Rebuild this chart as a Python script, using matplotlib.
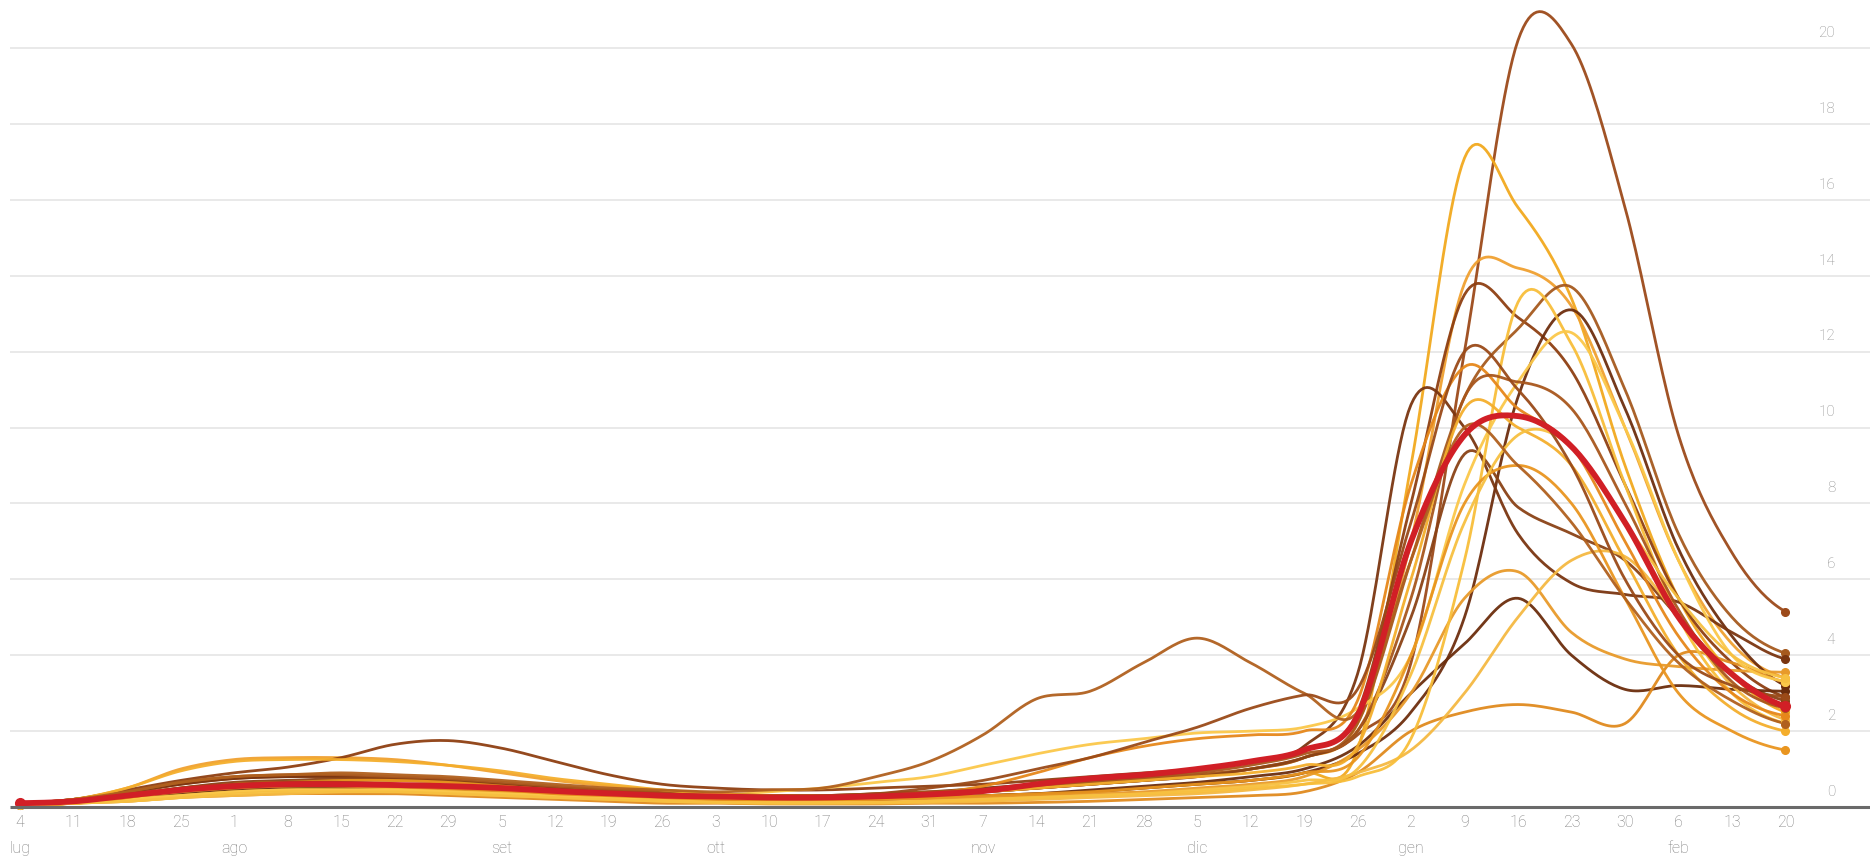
import numpy as np
import pandas as pd
import matplotlib
matplotlib.use('Agg')
import matplotlib.pyplot as plt

# weekly dates, 4 Jul 2021 -> 20 Feb 2022
dates = pd.date_range('2021-07-04', '2022-02-20', freq='7D')
mesi = {7: 'lug', 8: 'ago', 9: 'set', 10: 'ott', 11: 'nov', 12: 'dic', 1: 'gen', 2: 'feb'}

# one series per region, Italy drawn on top
regioni = {
    'A': [0.1,0.15,0.35,0.6,0.75,0.8,0.8,0.75,0.7,0.6,0.5,0.4,0.35,0.3,0.25,0.25,0.3,0.35,0.4,0.5,0.6,0.7,0.8,1.0,1.3,
          1.9,3.8,12.0,20.2,20.1,15.8,9.8,6.7,5.15],
    'B': [0.05,0.1,0.2,0.3,0.4,0.45,0.45,0.4,0.35,0.3,0.25,0.2,0.15,0.12,0.1,0.1,0.12,0.15,0.2,0.3,0.4,0.5,0.6,0.7,0.9,
          1.5,9.0,17.1,15.8,13.4,9.0,5.5,3.5,2.5],
    'C': [0.1,0.2,0.5,1.0,1.25,1.3,1.3,1.25,1.1,0.9,0.7,0.55,0.45,0.35,0.3,0.3,0.3,0.35,0.45,0.55,0.65,0.75,0.85,1.0,1.3,
          2.2,7.0,13.8,14.2,13.2,10.0,6.5,4.3,3.4],
    'D1': [0.1,0.2,0.45,0.7,0.9,1.05,1.3,1.65,1.75,1.55,1.2,0.85,0.6,0.5,0.45,0.45,0.5,0.55,0.6,0.7,0.8,0.9,1.0,1.2,1.5,
           2.5,8.0,13.5,12.9,11.5,8.5,5.5,3.8,2.9],
    'D2': [0.1,0.15,0.3,0.5,0.6,0.65,0.7,0.7,0.65,0.6,0.5,0.4,0.35,0.3,0.25,0.25,0.3,0.35,0.4,0.5,0.6,0.7,0.85,1.0,1.3,
           2.2,6.5,10.8,12.6,13.7,11.0,7.2,5.0,4.05],
    'E': [0.05,0.1,0.2,0.35,0.45,0.5,0.5,0.5,0.45,0.4,0.35,0.3,0.25,0.2,0.2,0.2,0.2,0.25,0.3,0.35,0.4,0.5,0.6,0.7,0.9,
          1.4,2.5,5.0,10.8,13.1,10.5,6.8,4.5,3.2],
    'F': [0.1,0.2,0.4,0.6,0.75,0.8,0.8,0.75,0.7,0.6,0.5,0.45,0.4,0.35,0.3,0.3,0.35,0.4,0.5,0.6,0.7,0.8,0.95,1.2,1.6,
          3.5,10.6,10.0,7.2,5.9,5.6,5.4,4.6,3.9],
    'G': [0.1,0.15,0.3,0.5,0.65,0.7,0.75,0.75,0.7,0.6,0.5,0.45,0.4,0.35,0.3,0.3,0.3,0.35,0.4,0.5,0.6,0.7,0.8,1.0,1.3,
          2.0,5.0,9.3,7.9,7.2,6.5,5.0,3.5,2.8],
    'H': [0.1,0.15,0.3,0.45,0.55,0.6,0.6,0.55,0.5,0.45,0.4,0.35,0.3,0.25,0.2,0.2,0.2,0.25,0.3,0.35,0.45,0.55,0.65,0.8,1.0,
          1.6,3.0,4.3,5.5,4.0,3.1,3.2,3.1,3.05],
    'I': [0.05,0.1,0.15,0.25,0.3,0.35,0.35,0.35,0.3,0.25,0.2,0.15,0.1,0.1,0.08,0.08,0.08,0.1,0.1,0.12,0.15,0.2,0.25,0.3,0.4,
          0.9,2.0,2.5,2.7,2.5,2.2,4.0,3.8,3.3],
    'J': [0.05,0.1,0.25,0.4,0.5,0.55,0.55,0.5,0.45,0.4,0.35,0.3,0.25,0.2,0.18,0.18,0.2,0.22,0.25,0.3,0.35,0.4,0.5,0.6,0.8,
          1.5,3.0,5.5,6.2,4.6,3.9,3.7,3.6,3.55],
    'K': [0.05,0.1,0.15,0.25,0.3,0.35,0.4,0.4,0.35,0.3,0.25,0.2,0.15,0.12,0.1,0.1,0.1,0.12,0.15,0.2,0.25,0.3,0.35,0.45,0.6,
          0.9,1.5,3.0,5.0,6.5,6.6,5.0,3.2,2.3],
    'L': [0.05,0.1,0.2,0.3,0.4,0.45,0.45,0.45,0.4,0.35,0.3,0.25,0.2,0.15,0.12,0.12,0.12,0.15,0.2,0.25,0.3,0.35,0.4,0.5,0.6,
          0.8,1.8,6.5,13.3,12.2,8.5,5.0,3.0,2.2],
    'M': [0.05,0.1,0.2,0.3,0.4,0.45,0.45,0.45,0.4,0.35,0.3,0.25,0.25,0.3,0.4,0.5,0.65,0.8,1.1,1.4,1.65,1.8,1.95,2.0,2.1,
          2.6,4.0,8.5,11.2,12.5,10.0,6.5,4.0,3.3],
    'N': [0.05,0.1,0.25,0.45,0.55,0.6,0.6,0.55,0.5,0.45,0.35,0.3,0.25,0.2,0.2,0.2,0.25,0.35,0.55,0.9,1.3,1.6,1.8,1.9,2.0,
          2.8,8.5,11.6,10.5,9.5,7.0,4.5,3.0,2.4],
    'O': [0.1,0.2,0.4,0.65,0.8,0.85,0.85,0.8,0.75,0.65,0.55,0.45,0.4,0.35,0.3,0.3,0.35,0.4,0.45,0.55,0.65,0.75,0.9,1.1,1.4,
          2.0,5.5,10.8,11.2,10.5,8.0,5.2,3.3,2.6],
    'P': [0.1,0.2,0.5,0.95,1.2,1.25,1.25,1.2,1.1,0.95,0.75,0.6,0.45,0.35,0.3,0.3,0.3,0.35,0.4,0.5,0.6,0.7,0.8,0.9,1.1,
          1.6,6.0,10.5,10.0,9.0,6.5,4.0,2.6,2.0],
    'Q': [0.05,0.1,0.25,0.45,0.6,0.65,0.7,0.7,0.65,0.55,0.45,0.35,0.3,0.25,0.2,0.2,0.2,0.25,0.3,0.35,0.4,0.5,0.6,0.7,0.9,
          1.3,4.0,8.0,9.0,8.0,5.5,3.0,2.0,1.5],
    'R': [0.05,0.1,0.15,0.25,0.35,0.4,0.4,0.4,0.35,0.3,0.25,0.2,0.15,0.12,0.1,0.1,0.12,0.15,0.2,0.25,0.3,0.35,0.45,0.55,0.7,
          1.0,3.5,7.5,9.8,9.5,7.5,5.5,4.0,3.4],
    'S': [0.1,0.2,0.4,0.65,0.8,0.85,0.9,0.85,0.8,0.7,0.6,0.5,0.45,0.4,0.45,0.5,0.8,1.2,1.9,2.85,3.05,3.8,4.45,3.8,3.0,
          2.5,6.5,10.0,9.0,7.5,5.5,3.8,2.8,2.2],
    'U': [0.1,0.15,0.3,0.5,0.6,0.65,0.65,0.6,0.55,0.5,0.45,0.4,0.35,0.3,0.3,0.3,0.35,0.5,0.7,1.0,1.3,1.7,2.1,2.6,2.95,
          3.1,7.5,12.0,11.0,9.0,6.0,4.0,3.2,2.9],
}
colori = {
    'A': '#9c4a1a', 'B': '#f2a91e', 'C': '#f0a030', 'D1': '#8e3f12', 'D2': '#a65a1e',
    'E': '#6e2e0e', 'F': '#7a3510', 'G': '#8a4216', 'H': '#6b2d0c', 'I': '#e08a1e',
    'J': '#e89a2a', 'K': '#f5b942', 'L': '#f8be3a', 'M': '#fbc84a', 'N': '#e6871a',
    'O': '#a8561c', 'P': '#f4ae2c', 'Q': '#e9951f', 'R': '#f7c040', 'S': '#b0601e',
    'U': '#9a4a18',
}
italia = [0.1,0.15,0.3,0.45,0.55,0.6,0.6,0.58,0.55,0.5,0.42,0.36,0.3,0.28,0.25,0.25,0.28,0.33,0.42,0.6,0.75,0.85,1.0,1.2,1.5,
          2.4,7.0,9.8,10.3,9.5,7.5,5.0,3.5,2.65]


def catmull(y, n=20):
    y = np.asarray(y, float)
    p = np.concatenate([[y[0]], y, [y[-1]]])
    t = np.linspace(0, 1, n, endpoint=False)
    h00 = 2*t**3 - 3*t**2 + 1
    h10 = t**3 - 2*t**2 + t
    h01 = -2*t**3 + 3*t**2
    h11 = t**3 - t**2
    xs, ys = [], []
    for i in range(len(y) - 1):
        m1 = (p[i+2] - p[i]) / 2
        m2 = (p[i+3] - p[i+1]) / 2
        ys.append(h00*p[i+1] + h10*m1 + h01*p[i+2] + h11*m2)
        xs.append(i + t)
    xs = np.concatenate(xs + [[len(y) - 1]])
    ys = np.concatenate(ys + [[y[-1]]])
    return xs, np.clip(ys, 0, None)


plt.rcParams['font.family'] = ['Roboto', 'DejaVu Sans']
fig = plt.figure(figsize=(18.7, 8.59), dpi=100)
ax = fig.add_axes([0, 0, 1, 1])
ax.set_axis_off()
ax.set_xlim(-0.374, 34.58)
ax.set_ylim(-1.37, 21.265)

# grid
for g in range(2, 21, 2):
    ax.hlines(g, -0.19, 34.58, color='#e3e3e3', lw=1.1, zorder=0)
    ax.text(33.93, g + 0.4, str(g), ha='right', va='center', fontsize=11,
            color='#8f8f8f', fontweight='light')
ax.hlines(0, -0.19, 34.58, color='#6a6a6a', lw=2.2, zorder=5)
ax.text(33.93, 0.4, '0', ha='right', va='center', fontsize=11, color='#8f8f8f', fontweight='light')

n = len(dates)
for k, vals in regioni.items():
    xs, ys = catmull(vals)
    ax.plot(xs, ys, color=colori[k], lw=2.0, alpha=0.95, solid_capstyle='round', zorder=2)
    ax.plot([0, n - 1], [vals[0], vals[-1]], 'o', color=colori[k], ms=5.5, zorder=3)

xs, ys = catmull(italia)
ax.plot(xs, ys, color='#d11f26', lw=4.2, solid_capstyle='round', zorder=4)
ax.plot([0, n - 1], [italia[0], italia[-1]], 'o', color='#d11f26', ms=7, zorder=4)

# x labels
prev = None
for i, d in enumerate(dates):
    ax.text(i, -0.42, str(d.day), ha='center', va='center', fontsize=11.5,
            color='#7d7d7d', fontweight='light')
    if d.month != prev:
        ax.text(i, -1.1, mesi[d.month], ha='center', va='center', fontsize=11.5,
                color='#7d7d7d', fontweight='light')
        prev = d.month

fig.savefig('out.png', dpi=100, facecolor='white')
